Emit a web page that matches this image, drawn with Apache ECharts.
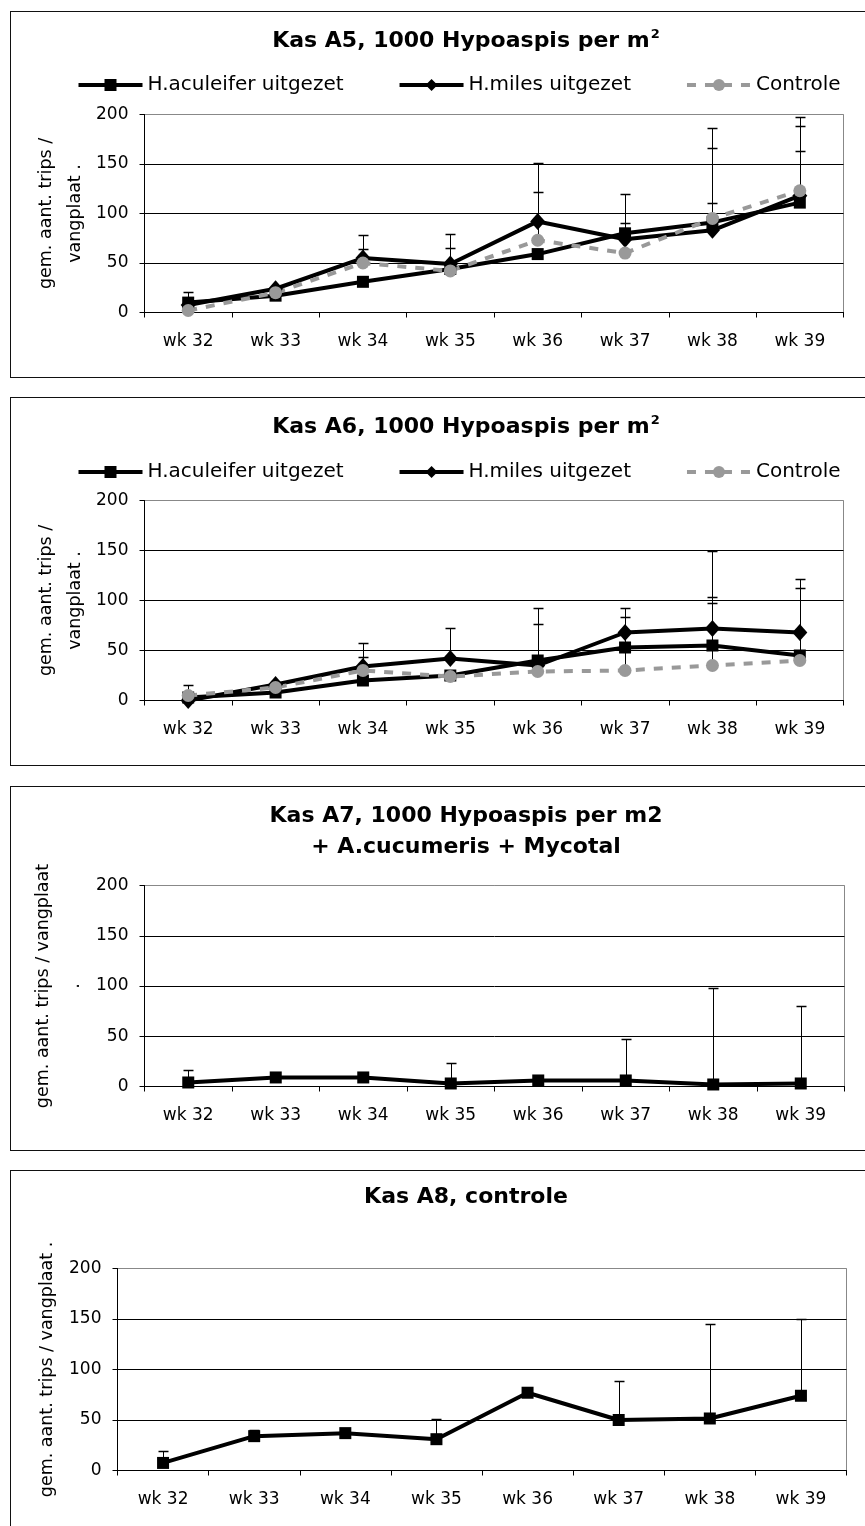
<!DOCTYPE html>
<html>
<head>
<meta charset="utf-8">
<title>Kas A5 - A8</title>
<script src="https://cdn.jsdelivr.net/npm/echarts@6/dist/echarts.min.js"></script>
<style>
html,body{margin:0;padding:0;background:#fff;width:865px;height:1526px;overflow:hidden;position:relative;}
.panel{position:absolute;left:10px;width:912px;border:1.5px solid #111;box-sizing:border-box;background:#fff;}
.panel div.chart{position:absolute;left:0;top:0;width:100%;height:100%;}
</style>
</head>
<body>
<div class="panel" style="top:11px;height:367px"><div class="chart" id="c1"></div></div>
<div class="panel" style="top:397px;height:369px"><div class="chart" id="c2"></div></div>
<div class="panel" style="top:786px;height:365px"><div class="chart" id="c3"></div></div>
<div class="panel" style="top:1170px;height:380px"><div class="chart" id="c4"></div></div>
<script>
// weken
var weeks = ['wk 32','wk 33','wk 34','wk 35','wk 36','wk 37','wk 38','wk 39'];
var yTicks = [0, 50, 100, 150, 200];

// Kas A5
var a5Aculeifer = [10, 17, 31, 44, 59, 80, 91, 111];
var a5AculeiferErr = [11, null, null, null, null, 40, 20, 52];
var a5Miles = [7.5, 24, 55, 49, 92, 74, 83, 118];
var a5MilesErr = [null, null, 23, 30, 59, 16, 83, 70];
var a5Controle = [2, 20, 50, 42, 73, 60, 95, 123];
var a5ControleErr = [null, null, 14, 23, 49, null, 91, 74];

// Kas A6
var a6Aculeifer = [3, 8, 20, 25, 40, 53, 55, 45];
var a6AculeiferErr = [null, null, null, null, 53, null, 49, 68];
var a6Miles = [0, 16, 34, 42, 35, 68, 72, 68];
var a6MilesErr = [null, null, 24, 31, 42, 25, 78, 54];
var a6Controle = [5, 13, 30, 24, 29, 30, 35, 40];
var a6ControleErr = [11, null, 14, null, null, 54, 63, null];

// Kas A7
var a7Trips = [4, 9, 9, 3, 6, 6, 2, 3];
var a7TripsErr = [12, null, null, 20, null, 41, 96, 77];

// Kas A8
var a8Trips = [7.5, 34, 37, 31, 77, 50, 51.5, 74];
var a8TripsErr = [11.5, 6, null, 20, null, 39, 93.5, 76];

var FONT = 'DejaVu Sans';
var NAMES = ['H.aculeifer uitgezet', 'H.miles uitgezet', 'Controle'];

function renderErr(params, api){
    var x = api.value(0), v = api.value(1), e = api.value(2);
    var p0 = api.coord([x, v]);
    var p1 = api.coord([x, v + e]);
    var cx = Math.round(p0[0]) + 0.5;
    var cy = Math.round(p1[1]) + 0.5;
    return {
        type:'group',
        children:[
            {type:'line', shape:{x1:cx, y1:p0[1], x2:cx, y2:cy}, style:{stroke:'#000', lineWidth:1}},
            {type:'line', shape:{x1:cx-5, y1:cy, x2:cx+5, y2:cy}, style:{stroke:'#000', lineWidth:1.5}}
        ]
    };
}

function errData(vals, errs){
    var out = [];
    for(var i=0;i<vals.length;i++){
        if(errs[i] != null) out.push([i, vals[i], errs[i]]);
    }
    return out;
}

var seriesStyle = {
    'H.aculeifer uitgezet': {symbol:'rect', symbolSize:12, color:'#000', line:{color:'#000', width:4}},
    'H.miles uitgezet': {symbol:'diamond', symbolSize:[15,17], color:'#000', line:{color:'#000', width:4}},
    'Controle': {symbol:'circle', symbolSize:13, color:'#999', line:{color:'#999', width:4, type:[9,9]}}
};

function lineSeries(name, data){
    var st = seriesStyle[name];
    return {
        name:name, type:'line', data:data,
        symbol:st.symbol, symbolSize:st.symbolSize,
        itemStyle:{color:st.color},
        lineStyle:st.line,
        animation:false, silent:true
    };
}

function errSeries(vals, errs){
    return {
        type:'custom', renderItem:renderErr, data:errData(vals, errs),
        encode:{x:0, y:1}, z:1, animation:false, silent:true
    };
}

function makeOption(cfg){
    var series = [];
    cfg.lines.forEach(function(l){ series.push(errSeries(l.data, l.err)); });
    cfg.lines.forEach(function(l){
        var s = lineSeries(l.name, l.data);
        s.z = 3;
        series.push(s);
    });
    var opt = {
        animation:false,
        title:{
            text:cfg.title, left:'center', top:cfg.titleTop,
            textStyle:{
                fontFamily:FONT, fontSize:22, fontWeight:'bold', color:'#000', lineHeight:cfg.titleLH || 26,
                rich:{
                    t:{fontFamily:FONT, fontSize:22, fontWeight:'bold', color:'#000', lineHeight:26},
                    s:{fontFamily:FONT, fontSize:13, fontWeight:'bold', color:'#000', lineHeight:14, verticalAlign:'top', padding:[0,0,0,1]}
                }
            }
        },
        grid:{left:cfg.left, top:cfg.top, width:cfg.width, height:cfg.height, show:true, borderColor:'#888', borderWidth:1, backgroundColor:'transparent'},
        xAxis:{
            type:'category', data:weeks, boundaryGap:true,
            axisLine:{lineStyle:{color:'#000', width:1}},
            axisTick:{show:true, interval:0, length:5, lineStyle:{color:'#000'}},
            axisLabel:{interval:0, color:'#000', fontFamily:FONT, fontSize:17, margin:21}
        },
        yAxis:{
            type:'value', min:yTicks[0], max:yTicks[yTicks.length-1], interval:50,
            name:cfg.yName, nameLocation:'middle', nameRotate:90, nameGap:cfg.nameGap,
            nameMoveOverlap:false,
            nameTextStyle:{fontFamily:FONT, fontSize:17.5, color:'#000', lineHeight:cfg.nameLH, align:'center'},
            axisLine:{show:true, lineStyle:{color:'#000', width:1}},
            axisTick:{show:true, length:5, lineStyle:{color:'#000'}},
            axisLabel:{color:'#000', fontFamily:FONT, fontSize:17, margin:16},
            splitLine:{show:true, lineStyle:{color:['#000','#000','#000','#000','#888'], width:1}}
        },
        series:series
    };
    if(cfg.legend){
        opt.legend = {
            data:cfg.lines.map(function(l){ return l.name; }),
            left:65.5, top:cfg.legendTop, padding:0,
            itemWidth:64, itemHeight:15, itemGap:54,
            lineStyle:{width:4},
            textStyle:{fontFamily:FONT, fontSize:20, color:'#000'},
            selectedMode:false
        };
    }
    return opt;
}

var panels = [
    {
        id:'c1', title:'{t|Kas A5, 1000 Hypoaspis per m}{s|2}', titleTop:11.5, legend:true, legendTop:63,
        left:133.5, top:102.5, width:699, height:198,
        yName:'gem. aant. trips /\nvangplaat .', nameGap:55, nameLH:29,
        lines:[
            {name:NAMES[0], data:a5Aculeifer, err:a5AculeiferErr},
            {name:NAMES[1], data:a5Miles, err:a5MilesErr},
            {name:NAMES[2], data:a5Controle, err:a5ControleErr}
        ]
    },
    {
        id:'c2', title:'{t|Kas A6, 1000 Hypoaspis per m}{s|2}', titleTop:11.5, legend:true, legendTop:64,
        left:133.5, top:102.5, width:699, height:200,
        yName:'gem. aant. trips /\nvangplaat .', nameGap:55, nameLH:29,
        lines:[
            {name:NAMES[0], data:a6Aculeifer, err:a6AculeiferErr},
            {name:NAMES[1], data:a6Miles, err:a6MilesErr},
            {name:NAMES[2], data:a6Controle, err:a6ControleErr}
        ]
    },
    {
        id:'c3', title:'Kas A7, 1000 Hypoaspis per m2\n+ A.cucumeris + Mycotal', titleTop:9, titleLH:31, legend:false,
        left:133.5, top:98.5, width:700, height:201,
        yName:'gem. aant. trips / vangplaat\n.', nameGap:55, nameLH:31,
        lines:[
            {name:NAMES[0], data:a7Trips, err:a7TripsErr}
        ]
    },
    {
        id:'c4', title:'Kas A8, controle', titleTop:8.5, legend:false,
        left:106.5, top:97.5, width:729, height:202,
        yName:'gem. aant. trips / vangplaat .', nameGap:60, nameLH:21,
        lines:[
            {name:NAMES[0], data:a8Trips, err:a8TripsErr}
        ]
    }
];

panels.forEach(function(p){
    var chart = echarts.init(document.getElementById(p.id), null, {renderer:'canvas'});
    chart.setOption(makeOption(p));
});
</script>
</body>
</html>
